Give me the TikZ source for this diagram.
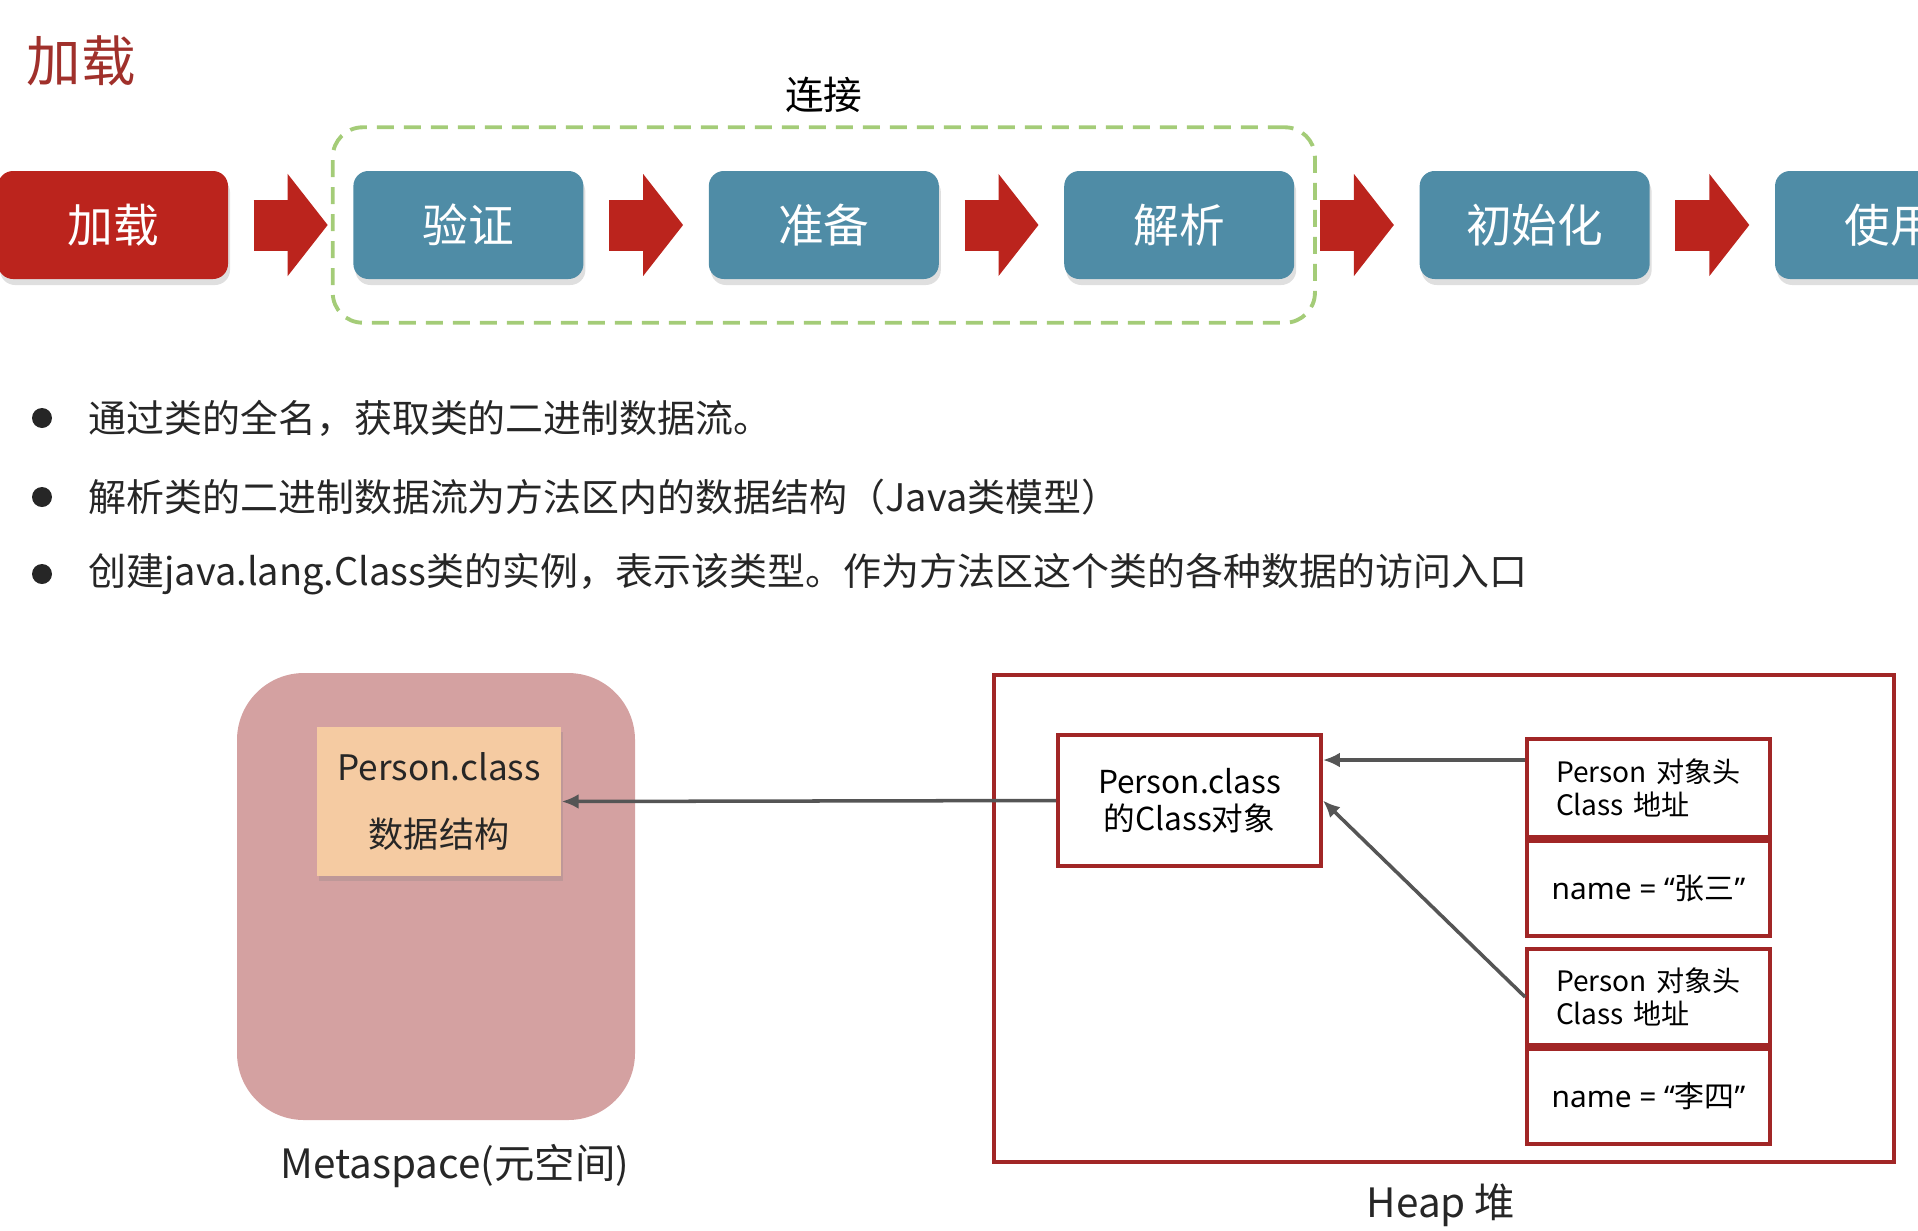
\documentclass[tikz,border=0pt]{standalone}
\usepackage{fontspec}
\setmainfont{Noto Sans CJK SC}
\newfontfamily\latinfont{Noto Sans}
\usetikzlibrary{positioning,fit,shadows,arrows.meta}
\definecolor{loadred}{HTML}{BB241D}
\definecolor{stageblue}{HTML}{4F8CA6}
\definecolor{linkgreen}{HTML}{A4CC78}
\definecolor{titlered}{HTML}{A0302B}
\definecolor{metapink}{HTML}{D4A1A1}
\definecolor{peach}{HTML}{F5CBA2}
\definecolor{heapred}{HTML}{A12626}
\definecolor{ptrgray}{HTML}{555555}
\definecolor{txtgray}{HTML}{262626}
\begin{document}
\begin{tikzpicture}[
  stage/.style={rectangle, rounded corners=0.15cm, fill=stageblue, text=white,
    minimum width=2.30cm, minimum height=1.08cm, font=\fontsize{13pt}{15pt}\selectfont,
    drop shadow={opacity=0.25, shadow xshift=0.02cm, shadow yshift=-0.06cm}},
  flow/.style={draw=loadred, line width=0.51cm, -{Triangle[length=0.40cm, width=1.0cm]}},
  bulletdot/.style={circle, fill=txtgray, inner sep=0pt, minimum size=0.20cm},
  bullettext/.style={anchor=west, text=txtgray, font=\fontsize{10.8pt}{12pt}\selectfont},
  heapcell/.style={draw=heapred, line width=1.1pt, fill=white, minimum width=2.43cm,
    font=\fontsize{8.5pt}{9.5pt}\selectfont},
  headcell/.style={heapcell, align=left, text width=1.85cm, font=\fontsize{8pt}{9.4pt}\selectfont},
  ptr/.style={draw=ptrgray, line width=1pt, -{Latex[length=0.17cm, width=0.15cm]}},
  spacelbl/.style={text=txtgray, font=\fontsize{11.5pt}{13pt}\selectfont}
]
\clip (0,0) rectangle (19.18,-12.30);
\useasboundingbox (0,0) rectangle (19.18,-12.30);

% title and stages
\node[text=titlered, font=\fontsize{15.5pt}{18pt}\selectfont] (title) at (0.81,-0.61) {加载};
\node[stage, fill=loadred] (load) at (1.13,-2.25) {加载};
\node[stage, right=1.24cm of load] (verify) {验证};
\node[stage, right=1.24cm of verify] (prepare) {准备};
\node[stage, right=1.24cm of prepare] (parse) {解析};
\node[stage, right=1.24cm of parse] (init) {初始化};
\node[stage, right=1.24cm of init] (use) {使用};

\draw[flow] ([xshift=0.25cm]load.east) -- ([xshift=-0.25cm]verify.west);
\draw[flow] ([xshift=0.25cm]verify.east) -- ([xshift=-0.25cm]prepare.west);
\draw[flow] ([xshift=0.25cm]prepare.east) -- ([xshift=-0.25cm]parse.west);
\draw[flow] ([xshift=0.25cm]parse.east) -- ([xshift=-0.25cm]init.west);
\draw[flow] ([xshift=0.25cm]init.east) -- ([xshift=-0.25cm]use.west);

\node[draw=linkgreen, line width=1.1pt, dash pattern=on 0.17cm off 0.10cm, rounded corners=0.3cm,
  fit=(verify)(parse), inner xsep=0.2cm, inner ysep=0.43cm] (linkbox) {};
\node[above=0pt of linkbox, font=\fontsize{11pt}{13pt}\selectfont] (linklbl) {连接};

% bullets
\node[bulletdot] (d1) at (0.42,-4.18) {};
\node[bullettext] (t1) at (0.76,-4.18) {通过类的全名，获取类的二进制数据流。};
\node[bulletdot] (d2) at (0.42,-4.97) {};
\node[bullettext] (t2) at (0.76,-4.97) {解析类的二进制数据流为方法区内的数据结构（Java类模型）};
\node[bulletdot] (d3) at (0.42,-5.74) {};
\node[bullettext] (t3) at (0.76,-5.74) {创建java.lang.Class类的实例，表示该类型。作为方法区这个类的各种数据的访问入口};

% metaspace
\node[fill=metapink, rounded corners=0.67cm, minimum width=3.98cm, minimum height=4.47cm] (meta) at (4.36,-8.965) {};
\node[fill=peach, minimum width=2.44cm, minimum height=1.49cm, align=center, text=txtgray,
  font=\fontsize{10pt}{19pt}\selectfont,
  drop shadow={opacity=0.25, shadow xshift=0.02cm, shadow yshift=-0.05cm}] (pclass) at (4.39,-8.015) {Person.class\\数据结构};
\node[spacelbl] (metalbl) at (4.55,-11.66) {Metaspace(元空间)};

% heap
\node[draw=heapred, line width=1.1pt, minimum width=9.00cm, minimum height=4.87cm] (heap) at (14.44,-9.185) {};
\node[spacelbl] (heaplbl) at (14.41,-12.05) {Heap 堆};
\node[heapcell, minimum width=2.63cm, minimum height=1.31cm, align=center, font=\fontsize{9pt}{10.5pt}\selectfont] (cobj) at (11.895,-8.005) {Person.class\\的Class对象};
\node[headcell, minimum height=0.98cm] (hdA) at (16.485,-7.88) {Person 对象头\\Class 地址};
\node[heapcell, minimum height=0.95cm, below=0pt of hdA] (nmA) {{\latinfont name = “}张三{\latinfont ”}};
\node[headcell, minimum height=0.96cm] (hdB) at (16.485,-9.97) {Person 对象头\\Class 地址};
\node[heapcell, minimum height=0.95cm, below=0pt of hdB] (nmB) {{\latinfont name = “}李四{\latinfont ”}};

\coordinate (hA) at ([yshift=0.28cm]hdA.west);
\draw[ptr] (cobj.west) -- (pclass.east);
\draw[ptr] (hA) -- (hA -| cobj.east);
\draw[ptr] (hdB.west) -- (cobj.east);
\end{tikzpicture}
\end{document}
